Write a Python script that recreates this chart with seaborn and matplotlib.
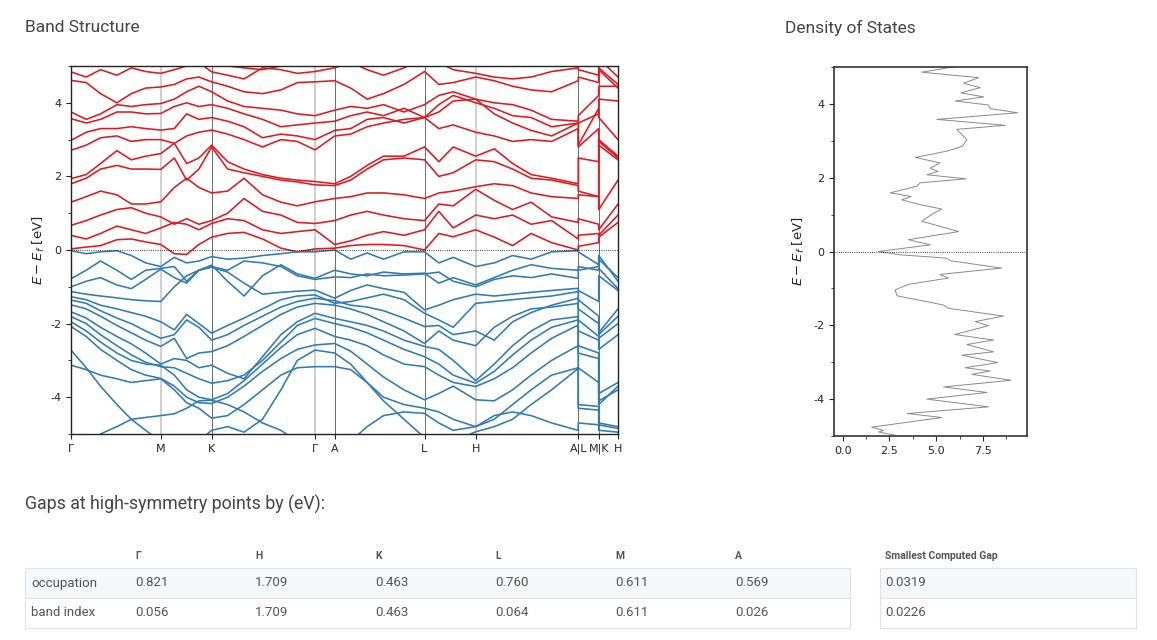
import matplotlib
matplotlib.use("Agg")
import matplotlib.pyplot as plt
from matplotlib.patches import Rectangle
from matplotlib.ticker import MultipleLocator
import numpy as np
import pandas as pd
import seaborn as sns

# k-path (1/A), duplicated values mark the jumps at A|L and M|K
k_path = [0.000, 0.152, 0.295, 0.459, 0.603, 0.746, 0.898,
          1.033, 1.156, 1.279, 1.406,
          1.566, 1.730, 1.915, 2.099, 2.263, 2.440,
          2.637,
          2.797, 2.961, 3.125, 3.330, 3.535,
          3.678, 3.822, 4.047,
          4.232, 4.416, 4.601, 4.806, 5.072,
          5.072, 5.277, 5.277, 5.470]

tick_pos = [0.000, 0.898, 1.406, 2.440, 2.637, 3.535, 4.047, 5.072, 5.277, 5.470]
tick_labels = ["Γ", "M", "K", "Γ", "A", "L", "H", "A|L", "M|K", "H"]

# conduction bands (eV, relative to Ef)
c01 = [0.03, 0.08, 0.12, 0.28, 0.30, 0.22, 0.15, -0.10, -0.12, 0.15, 0.35, 0.45, 0.48, 0.30, 0.05, -0.05, 0.03, 0.05, 0.12, 0.15, 0.15, 0.12, 0.00, 0.45, 0.36, 0.55, 0.35, 0.12, 0.45, 0.20, 0.00, 0.10, 0.20, 0.35, 0.75]
c02 = [0.40, 0.30, 0.45, 0.65, 0.55, 0.45, 0.60, 0.75, 0.70, 0.55, 0.72, 0.85, 0.80, 0.55, 0.45, 0.50, 0.55, 0.15, 0.25, 0.40, 0.50, 0.40, 0.55, 1.05, 0.60, 0.95, 0.85, 0.95, 0.70, 0.80, 0.30, 0.40, 0.45, 0.40, 0.95]
c03 = [0.67, 0.80, 0.95, 1.10, 1.15, 1.00, 0.90, 0.70, 0.85, 0.70, 0.80, 1.00, 1.40, 1.05, 0.95, 0.75, 0.72, 0.80, 0.95, 1.05, 0.95, 0.85, 0.80, 1.25, 1.20, 1.65, 1.35, 1.10, 1.30, 0.90, 0.75, 0.85, 0.70, 0.55, 1.25]
c04 = [1.30, 1.45, 1.60, 1.50, 1.25, 1.25, 1.31, 1.70, 1.95, 1.70, 1.55, 1.60, 1.95, 1.50, 1.30, 1.20, 1.31, 1.40, 1.45, 1.55, 1.55, 1.50, 1.40, 1.55, 1.60, 1.72, 1.80, 1.75, 1.55, 1.45, 1.40, 1.50, 1.45, 1.10, 1.90]
c05 = [1.80, 1.95, 2.20, 2.30, 2.20, 2.20, 2.19, 2.50, 1.90, 2.20, 2.80, 2.20, 2.10, 2.00, 1.90, 1.85, 1.77, 1.75, 1.90, 2.20, 2.45, 2.50, 2.45, 2.00, 2.10, 2.45, 2.40, 2.20, 1.95, 1.90, 1.75, 1.60, 1.45, 2.85, 2.45]
c06 = [1.94, 2.05, 2.35, 2.70, 2.45, 2.55, 2.62, 2.90, 2.35, 2.50, 2.85, 2.40, 2.20, 2.05, 1.95, 1.90, 1.86, 1.80, 2.00, 2.30, 2.55, 2.55, 2.80, 2.40, 2.80, 2.55, 2.75, 2.35, 2.05, 1.95, 1.80, 2.50, 2.40, 3.00, 2.55]
c07 = [2.71, 2.85, 3.05, 3.10, 2.95, 3.00, 3.00, 2.90, 3.10, 3.20, 3.26, 3.15, 3.00, 2.80, 3.00, 2.95, 2.72, 3.10, 3.15, 3.35, 3.45, 3.55, 3.60, 3.30, 3.40, 3.20, 3.10, 2.95, 3.00, 2.95, 3.30, 2.80, 3.30, 2.95, 2.50]
c08 = [2.98, 3.20, 3.30, 3.30, 3.35, 3.30, 3.26, 3.30, 3.70, 3.55, 3.60, 3.50, 3.35, 3.05, 3.15, 3.10, 3.00, 3.25, 3.30, 3.55, 3.60, 3.45, 3.60, 3.75, 4.05, 4.10, 3.70, 3.45, 3.25, 3.10, 3.45, 2.85, 3.85, 3.60, 3.00]
c09 = [3.57, 3.45, 3.55, 3.75, 3.75, 3.70, 3.71, 3.90, 4.00, 3.90, 3.95, 3.85, 3.70, 3.55, 3.35, 3.40, 3.45, 3.50, 3.65, 3.75, 3.65, 3.85, 3.60, 3.95, 4.20, 4.00, 3.85, 3.65, 3.60, 3.35, 3.45, 3.45, 3.70, 4.10, 4.05]
c10 = [3.75, 3.55, 3.70, 3.95, 3.90, 3.95, 3.98, 4.10, 4.30, 4.45, 4.30, 4.05, 3.90, 3.85, 3.80, 3.70, 3.65, 3.80, 3.90, 3.85, 3.95, 3.75, 3.95, 4.20, 4.30, 4.10, 4.00, 3.95, 3.80, 3.55, 3.50, 3.65, 4.20, 4.45, 4.45]
c11 = [4.61, 4.55, 4.25, 4.00, 4.25, 4.40, 4.43, 4.50, 4.65, 4.70, 4.57, 4.45, 4.30, 4.25, 4.35, 4.55, 4.57, 4.60, 4.40, 4.10, 4.25, 4.50, 4.85, 4.50, 4.55, 4.70, 4.60, 4.45, 4.35, 4.30, 4.60, 4.70, 4.55, 4.90, 4.40]
c12 = [4.84, 4.70, 4.90, 4.75, 4.95, 4.85, 4.80, 4.90, 5.00, 5.10, 4.84, 4.75, 4.65, 4.95, 4.90, 4.80, 4.85, 4.95, 5.10, 4.90, 4.75, 4.95, 5.20, 5.10, 4.90, 4.80, 4.70, 4.65, 4.70, 4.85, 4.95, 4.90, 4.75, 4.95, 4.50]
c13 = [5.30, 5.20, 5.10, 5.00, 5.20, 5.15, 5.10, 5.20, 5.30, 5.20, 5.10, 5.00, 4.95, 4.90, 5.00, 5.20, 5.30, 5.30, 5.20, 5.10, 5.00, 5.20, 5.30, 5.20, 5.10, 5.00, 5.05, 5.10, 5.20, 5.10, 5.20, 5.10, 5.00, 5.20, 4.70]

# valence bands
v01 = [-0.02, -0.10, -0.05, -0.02, -0.15, -0.35, -0.45, -0.20, -0.35, -0.30, -0.18, -0.25, -0.22, -0.15, -0.10, -0.05, -0.05, 0.00, -0.25, -0.08, -0.25, -0.05, -0.05, -0.35, -0.20, -0.45, -0.35, -0.15, -0.25, -0.05, -0.02, -0.05, -0.40, -0.15, -0.85]
v02 = [-0.78, -0.55, -0.30, -0.55, -0.80, -0.55, -0.50, -0.45, -0.85, -0.55, -0.41, -0.85, -1.25, -0.70, -0.40, -0.65, -0.77, -0.55, -0.65, -0.70, -0.60, -0.65, -0.63, -0.90, -0.75, -0.95, -0.75, -0.55, -0.40, -0.50, -0.55, -0.45, -0.55, -0.50, -1.05]
v03 = [-1.00, -0.85, -0.75, -0.95, -1.05, -0.80, -0.52, -0.75, -0.90, -0.55, -0.45, -0.55, -0.30, -0.35, -0.45, -0.70, -0.80, -0.73, -0.75, -0.65, -0.70, -0.68, -0.65, -0.60, -0.85, -1.00, -0.80, -0.70, -0.75, -0.65, -0.77, -0.55, -0.45, -0.25, -0.75]
v04 = [-1.13, -1.20, -1.25, -1.30, -1.35, -1.38, -1.40, -1.00, -0.70, -0.55, -0.47, -0.60, -0.90, -1.20, -1.15, -1.12, -1.09, -1.31, -1.10, -0.95, -1.05, -1.15, -1.63, -1.50, -1.35, -1.20, -1.25, -1.20, -1.15, -1.10, -1.04, -1.10, -1.40, -0.70, -1.10]
v05 = [-1.27, -1.35, -1.50, -1.60, -1.70, -1.80, -1.95, -2.17, -1.75, -2.00, -2.26, -2.05, -1.85, -1.60, -1.35, -1.25, -1.22, -1.45, -1.40, -1.30, -1.20, -1.35, -1.72, -1.90, -2.10, -1.45, -1.40, -1.35, -1.30, -1.25, -1.13, -1.35, -1.80, -2.30, -1.80]
v06 = [-1.36, -1.45, -1.65, -1.85, -2.00, -2.20, -2.40, -2.30, -1.90, -2.10, -2.45, -2.30, -2.05, -1.80, -1.55, -1.40, -1.31, -1.38, -1.50, -1.55, -1.65, -1.85, -2.08, -2.05, -2.30, -2.20, -2.45, -1.95, -1.70, -1.50, -1.31, -1.60, -2.00, -2.25, -1.60]
v07 = [-1.49, -1.60, -1.80, -2.05, -2.25, -2.45, -2.62, -2.40, -2.95, -2.80, -2.76, -2.60, -2.35, -2.05, -1.75, -1.55, -1.45, -1.50, -1.60, -1.75, -1.95, -2.20, -2.54, -2.20, -2.45, -2.60, -2.10, -1.80, -1.60, -1.55, -1.45, -1.90, -2.35, -2.40, -2.00]
v08 = [-1.68, -1.85, -2.10, -2.35, -2.55, -2.80, -3.10, -2.95, -3.00, -3.20, -3.13, -3.35, -3.50, -2.90, -2.30, -1.95, -1.72, -1.86, -1.95, -2.05, -2.20, -2.45, -2.62, -2.70, -3.00, -3.55, -3.10, -2.60, -2.20, -1.90, -1.81, -2.20, -2.45, -2.70, -2.30]
v09 = [-1.81, -2.00, -2.30, -2.60, -2.85, -3.05, -3.17, -3.20, -3.35, -3.50, -3.62, -3.55, -3.40, -3.00, -2.50, -2.05, -1.86, -2.00, -2.10, -2.25, -2.45, -2.70, -2.90, -3.10, -3.40, -3.62, -3.30, -2.85, -2.45, -2.10, -1.90, -2.60, -2.80, -3.90, -3.60]
v10 = [-1.95, -2.20, -2.50, -2.80, -3.00, -3.10, -3.13, -3.40, -3.80, -4.00, -4.07, -3.90, -3.55, -3.10, -2.65, -2.30, -2.13, -2.35, -2.45, -2.60, -2.85, -3.10, -3.17, -3.40, -3.60, -3.71, -3.50, -3.20, -2.80, -2.40, -2.04, -2.80, -2.95, -4.10, -3.80]
v11 = [-2.08, -2.35, -2.70, -3.00, -3.25, -3.40, -3.49, -3.70, -4.00, -4.15, -4.17, -4.00, -3.70, -3.30, -2.95, -2.70, -2.58, -2.54, -2.75, -3.10, -3.45, -3.80, -4.07, -3.90, -3.70, -4.07, -4.10, -3.80, -3.40, -3.00, -2.60, -3.20, -3.60, -4.20, -3.70]
v12 = [-2.72, -3.20, -3.70, -4.20, -4.60, -4.90, -5.20, -5.30, -5.30, -5.20, -4.90, -4.80, -4.95, -4.60, -3.80, -3.00, -2.72, -2.80, -3.10, -3.60, -4.10, -4.60, -5.10, -5.30, -5.20, -4.94, -4.80, -4.60, -4.20, -3.80, -3.22, -4.30, -4.35, -4.70, -4.80]
v13 = [-3.13, -3.25, -3.40, -3.50, -3.60, -3.55, -3.50, -3.80, -4.15, -4.30, -4.57, -4.50, -4.20, -3.80, -3.40, -3.20, -3.17, -3.17, -3.25, -3.60, -4.00, -4.20, -4.30, -4.40, -4.60, -4.80, -4.60, -4.20, -3.80, -3.40, -3.20, -4.20, -4.25, -4.75, -4.85]
v14 = [-5.50, -5.30, -5.00, -4.80, -4.60, -4.55, -4.50, -4.45, -4.30, -4.10, -4.08, -4.20, -4.40, -4.70, -4.90, -5.20, -5.40, -5.40, -5.20, -4.80, -4.50, -4.40, -4.44, -4.70, -4.90, -4.80, -4.50, -4.40, -4.50, -4.70, -4.90, -4.70, -4.75, -4.90, -4.95]

conduction = [c01, c02, c03, c04, c05, c06, c07, c08, c09, c10, c11, c12, c13]
valence = [v01, v02, v03, v04, v05, v06, v07, v08, v09, v10, v11, v12, v13, v14]

# density of states, read top to bottom
dos_energy = [5.00, 4.86, 4.71, 4.56, 4.44, 4.30, 4.19, 4.08, 3.97, 3.87, 3.76, 3.58, 3.42, 3.31, 3.03,
              2.85, 2.72, 2.55, 2.40, 2.26, 2.17, 2.08, 1.97, 1.86, 1.77, 1.59, 1.49, 1.40, 1.27, 1.15,
              1.04, 0.82, 0.54, 0.32, 0.18, 0.00, -0.09, -0.18, -0.25, -0.45, -0.62, -0.72, -0.89, -1.04,
              -1.20, -1.45, -1.54, -1.75, -1.90, -2.01, -2.25, -2.40, -2.52, -2.72, -2.81, -3.01, -3.15,
              -3.24, -3.33, -3.49, -3.67, -3.82, -4.00, -4.21, -4.39, -4.50, -4.76, -4.85, -4.89, -4.98]
dos_value = [5.90, 4.23, 7.27, 6.46, 7.36, 6.32, 7.54, 6.02, 7.80, 7.90, 9.36, 5.04, 8.70, 6.10, 6.64,
             6.40, 5.57, 3.88, 5.21, 4.68, 5.10, 4.50, 6.60, 4.14, 3.96, 2.54, 3.66, 3.16, 4.14, 5.30,
             4.86, 4.23, 6.20, 3.52, 4.68, 1.91, 3.07, 5.57, 5.75, 8.50, 5.21, 5.66, 3.52, 2.80,
             2.90, 5.39, 5.66, 8.60, 7.09, 7.80, 6.00, 8.07, 6.64, 8.07, 6.38, 8.29, 6.55,
             7.89, 6.91, 9.00, 5.39, 7.71, 4.50, 7.80, 3.46, 5.30, 1.55, 2.18, 1.91, 2.80]

# gap table
gap_points = ["Γ", "H", "K", "L", "M", "A"]
gap_rows = ["occupation", "band index"]
gap_occupation = [0.821, 1.709, 0.463, 0.760, 0.611, 0.569]
gap_band_index = [0.056, 1.709, 0.463, 0.064, 0.611, 0.026]
smallest_gap = [0.0319, 0.0226]

sns.set_style("ticks")
plt.rcParams["font.family"] = ["DejaVu Sans"]
plt.rcParams["axes.unicode_minus"] = False

red = "#e0191f"
blue = "#2f7bb3"
grey_txt = "#454545"

rows = []
for i, b in enumerate(conduction):
    for k, e in zip(k_path, b):
        rows.append(("c%d" % i, "cond", k, e))
for i, b in enumerate(valence):
    for k, e in zip(k_path, b):
        rows.append(("v%d" % i, "val", k, e))
bands = pd.DataFrame(rows, columns=["band", "kind", "k", "E"])

fig = plt.figure(figsize=(11.57, 6.40), dpi=100)

# band structure
ax = fig.add_axes([71 / 1157, 1 - 434 / 640, 547 / 1157, 368 / 640])
for i, x in enumerate(tick_pos[1:-1]):
    lab = tick_labels[1:-1][i]
    if lab in ("M", "Γ", "H"):
        ax.axvline(x, color="#cccccc", lw=1.3, zorder=0)
    else:
        ax.axvline(x, color="#555555", lw=0.6, zorder=0)
sns.lineplot(data=bands, x="k", y="E", units="band", hue="kind", estimator=None, sort=False,
             palette={"cond": red, "val": blue}, lw=1.15, legend=False, ax=ax)
ax.axhline(0, color="black", ls=":", lw=0.6)
ax.set_xlim(tick_pos[0], tick_pos[-1])
ax.set_ylim(-5, 5)
ax.set_xticks(tick_pos)
ax.set_xticklabels(tick_labels)
ax.yaxis.set_major_locator(MultipleLocator(2))
ax.yaxis.set_minor_locator(MultipleLocator(1))
ax.tick_params(labelsize=8, length=3.5, width=0.8)
ax.tick_params(which="minor", length=2, width=0.6)
ax.set_xlabel("")
ax.set_ylabel("$E - E_f$ [eV]", fontsize=9.5)
ax.yaxis.set_label_coords(-0.043, 0.5)
for s in ax.spines.values():
    s.set_linewidth(1.0)
    s.set_color("#222222")

# density of states
ax2 = fig.add_axes([834 / 1157, 1 - 436 / 640, 193 / 1157, 369 / 640])
sns.lineplot(x=dos_value, y=dos_energy, sort=False, estimator=None, color="#8a8a8a", lw=0.7, ax=ax2)
ax2.axhline(0, color="black", ls=":", lw=0.6)
ax2.set_ylim(-5, 5)
ax2.set_xlim(-0.47, 9.86)
ax2.xaxis.set_major_locator(MultipleLocator(2.5))
ax2.xaxis.set_minor_locator(MultipleLocator(1.25))
ax2.yaxis.set_major_locator(MultipleLocator(2))
ax2.yaxis.set_minor_locator(MultipleLocator(1))
ax2.tick_params(labelsize=8, length=3.5, width=0.8)
ax2.tick_params(which="minor", length=2, width=0.6)
ax2.set_ylabel("$E - E_f$ [eV]", fontsize=9.5)
ax2.yaxis.set_label_coords(-0.14, 0.5)
for s in ax2.spines.values():
    s.set_linewidth(1.2)
    s.set_color("#333333")

# page texts and the gap table, in pixel coordinates
pg = fig.add_axes([0, 0, 1, 1])
pg.set_xlim(0, 1157)
pg.set_ylim(640, 0)
pg.axis("off")
pg.set_zorder(-1)

pg.text(25, 28, "Band Structure", family="Roboto", fontsize=12.5, color=grey_txt, va="center")
pg.text(785, 28, "Density of States", family="Roboto", fontsize=12.5, color=grey_txt, va="center")
pg.text(25, 504, "Gaps at high-symmetry points by (eV):", family="Roboto", fontsize=12.8,
        color=grey_txt, va="center")

col_x = [135 + 120 * i for i in range(len(gap_points))]
for x, p in zip(col_x, gap_points):
    pg.text(x, 556, p, family="Roboto", fontsize=7.5, weight="bold", color="#555555", va="center")
pg.text(885, 556, "Smallest Computed Gap", family="Roboto", fontsize=7.5, weight="bold",
        color="#555555", va="center")

for x0, x1 in [(25, 850), (880, 1136)]:
    pg.add_patch(Rectangle((x0, 568), x1 - x0, 30, facecolor="#f5f7f9", edgecolor="#e2e2e2", lw=0.8))
    pg.add_patch(Rectangle((x0, 598), x1 - x0, 30, facecolor="white", edgecolor="#e2e2e2", lw=0.8))

for r, (name, vals) in enumerate(zip(gap_rows, [gap_occupation, gap_band_index])):
    y = 583 + 30 * r
    pg.text(31, y, name, family="Roboto", fontsize=9.5, color="#555555", va="center")
    for x, v in zip(col_x, vals):
        pg.text(x, y, "%.3f" % v, family="Roboto", fontsize=9.5, color="#555555", va="center")
    pg.text(885, y, "%.4f" % smallest_gap[r], family="Roboto", fontsize=9.5, color="#555555", va="center")

fig.savefig("out.png", dpi=100)
